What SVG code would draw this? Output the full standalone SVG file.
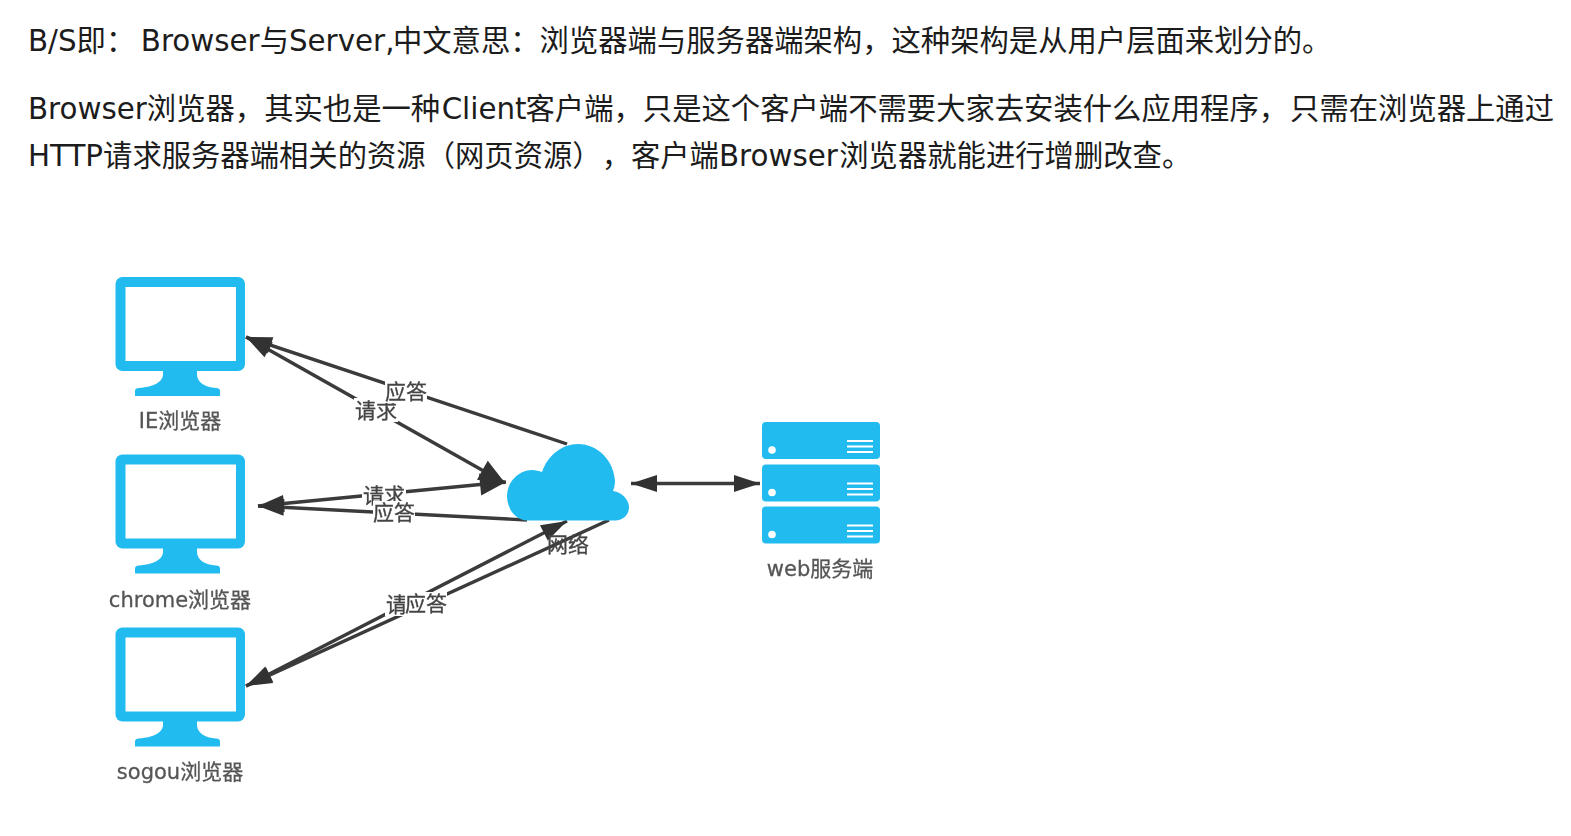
<svg xmlns="http://www.w3.org/2000/svg" xmlns:xlink="http://www.w3.org/1999/xlink" width="1571" height="836" viewBox="0 0 1571 836">
<style>
.para{font-family:"DejaVu Sans","Noto Sans CJK SC",sans-serif;font-size:29.33px;fill:#1c1c1c;text-spacing-trim:space-all}
.lbl{font-family:"DejaVu Sans","Noto Sans CJK SC",sans-serif;font-size:21px;fill:#555;text-anchor:middle;stroke:#555;stroke-width:.3}
.edge{font-family:"Noto Sans CJK SC",sans-serif;font-size:21px;fill:#444;text-anchor:middle;stroke:#444;stroke-width:.3}
.bg{fill:#fff}
.ln{fill:none;stroke:#3a3a3a;stroke-width:3.4}
.blue{fill:#21bbef}
.white{fill:#fff}
.soft{filter:url(#soft)}
</style>
<defs>
<filter id="soft" x="-5%" y="-5%" width="110%" height="110%"><feGaussianBlur stdDeviation="0.7"/></filter>
<marker id="arrow" markerUnits="userSpaceOnUse" markerWidth="30" markerHeight="20" refX="28" refY="10" orient="auto-start-reverse" viewBox="0 0 30 20"><path d="M2 1.500 L28 10 L2 18.500 Z" fill="#333"/></marker>
<marker id="arrowBig" markerUnits="userSpaceOnUse" markerWidth="30" markerHeight="26" refX="28" refY="13" orient="auto-start-reverse" viewBox="0 0 30 26"><path d="M2 2 L28 13 L2 24 Z" fill="#333"/></marker>
<g id="monitor">
<rect class="blue" x="115.500" y="277" width="129.500" height="94" rx="7"/>
<rect class="white" x="125.500" y="287" width="110.500" height="74"/>
<path class="blue" d="M163 370 H197 V374 C197 383 205 387 216 388 Q220 388 220 391 V396 H135 V391 Q135 388 139 388 C152 387 163 383 163 374 Z"/>
</g>
<g id="rack">
<rect class="blue" x="762" y="0" width="118" height="37" rx="4"/>
<circle class="white" cx="772" cy="28" r="3.800"/>
<rect class="white" x="847" y="18" width="26" height="2"/>
<rect class="white" x="847" y="23.500" width="26" height="2"/>
<rect class="white" x="847" y="29" width="26" height="2"/>
</g>
</defs>
<rect width="1571" height="836" fill="#fff"/>
<g id="paragraphs">
<text class="para" x="28" y="51">B/S即：<tspan dx="5.500">Browser与Server,</tspan><tspan dx="-1.500">中文意思：浏览器端与服务器端架构，这种架构是从用户层面来划分的。</tspan></text>
<text class="para" x="28" y="119">Browser浏览器，其实也是一种<tspan dx="1.500">Client</tspan><tspan dx="-1">客户端，只是这个客户端不需要大家去安装什么应用程序，</tspan><tspan dx="2">只需在浏览器上通过</tspan></text>
<text class="para" x="28" y="166">HTTP请求服务器端相关的资源（网页资源），客户端Browser<tspan dx="1.500">浏览器就能进行增删改查。</tspan></text>
</g>
<g id="connectors" class="soft">
<path class="ln" d="M246 337 L505 483" marker-start="url(#arrow)" marker-end="url(#arrowBig)"/>
<path class="ln" d="M567 444 L246 337" marker-end="url(#arrow)"/>
<path class="ln" d="M258 506 L506 482" marker-start="url(#arrow)" marker-end="url(#arrowBig)"/>
<path class="ln" d="M527 520 L258 506" marker-end="url(#arrow)"/>
<path class="ln" d="M246 686 L567 521" marker-start="url(#arrow)" marker-end="url(#arrow)"/>
<path class="ln" d="M609 520 L246 686" marker-end="url(#arrow)"/>
<path class="ln" d="M631 483.500 H760" marker-start="url(#arrow)" marker-end="url(#arrow)"/>
<g id="connector-labels">
<rect class="bg" x="354" y="398" width="44" height="24"/>
<text class="edge" x="376" y="418">请求</text>
<rect class="bg" x="385" y="380" width="42" height="23"/>
<text class="edge" x="406" y="399">应答</text>
<rect class="bg" x="362" y="484" width="44" height="16"/>
<text class="edge" x="384" y="503">请求</text>
<rect class="bg" x="373" y="501" width="42" height="22"/>
<text class="edge" x="394" y="520">应答</text>
<rect class="bg" x="385" y="592" width="44" height="24"/>
<text class="edge" x="407" y="612">请求</text>
<rect class="bg" x="405" y="592" width="42" height="24"/>
<text class="edge" x="426" y="611">应答</text>
</g>
</g>
<g id="node-ie" class="soft">
<use xlink:href="#monitor" href="#monitor"/>
<text class="lbl" x="180" y="428">IE浏览器</text>
</g>
<g id="node-chrome" class="soft">
<use xlink:href="#monitor" href="#monitor" y="177.500"/>
<text class="lbl" x="180" y="607">chrome浏览器</text>
</g>
<g id="node-sogou" class="soft">
<use xlink:href="#monitor" href="#monitor" y="350.500"/>
<text class="lbl" x="180" y="779">sogou浏览器</text>
</g>
<g id="node-cloud" class="soft">
<path class="blue" d="M528 520.500 C514 520.500 507 507 507 496 C507 482 519 470 532 470 C536 470 539 471 542 472 C548 455 562 444 578 444 C598 444 614 461 615 481 C615 485 614 488 613 491 C622 492 629 500 629 507 C629 515 623 520.500 615 520.500 Z"/>
<text class="edge" x="568" y="552">网络</text>
</g>
<g id="node-server" class="soft">
<use xlink:href="#rack" href="#rack" y="422"/>
<use xlink:href="#rack" href="#rack" y="464.500"/>
<use xlink:href="#rack" href="#rack" y="506.500"/>
<text class="lbl" x="820" y="576">web服务端</text>
</g>
</svg>
